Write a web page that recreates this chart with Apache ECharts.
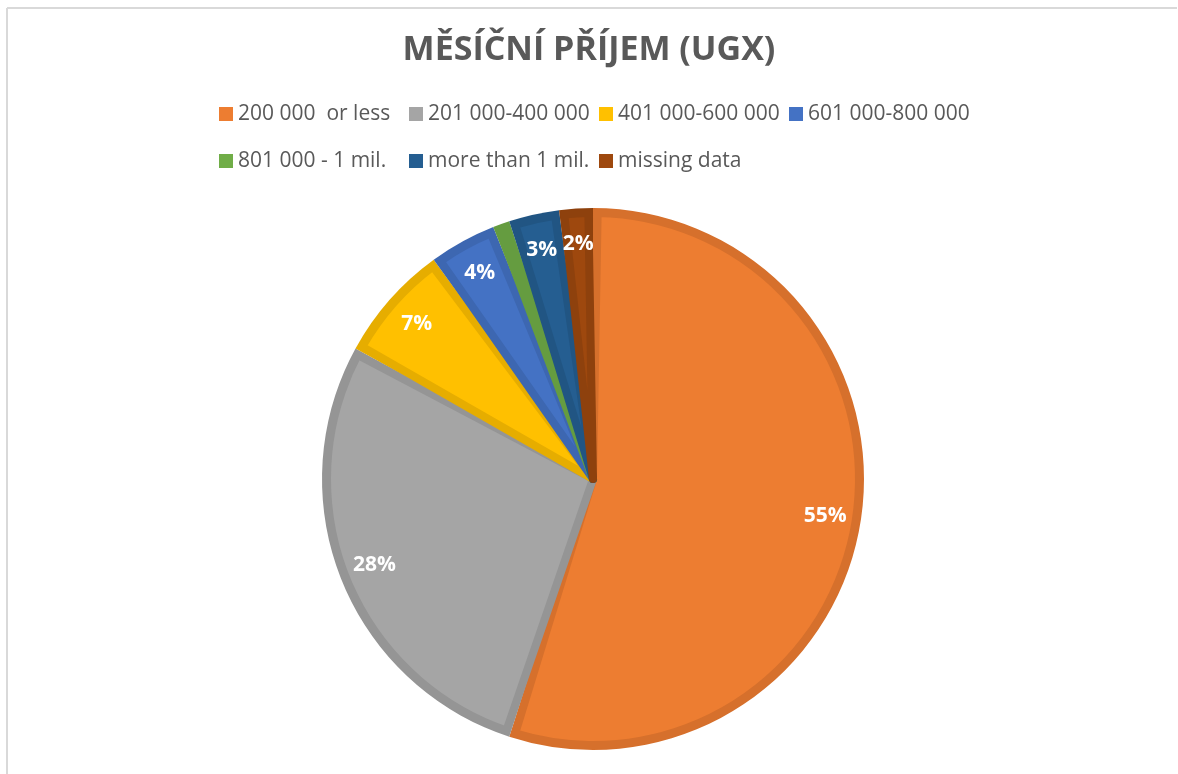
<!DOCTYPE html>
<html>
<head>
<meta charset="utf-8">
<script src="https://cdn.jsdelivr.net/npm/echarts@6/dist/echarts.min.js"></script>
<style>
  html, body { margin: 0; padding: 0; background: #fff; }
  #chart { width: 1178px; height: 774px; }
</style>
</head>
<body>
<div id="chart"></div>
<script>
const title = 'MĚSÍČNÍ PŘÍJEM (UGX)'
const categories = [
  '200 000  or less',
  '201 000-400 000',
  '401 000-600 000',
  '601 000-800 000',
  '801 000 - 1 mil.',
  'more than 1 mil.',
  'missing data',
]
const shares = [55, 28, 7, 4, 1, 3, 2]
const fillColors = ['#ED7D31', '#A5A5A5', '#FFC000', '#4472C4', '#70AD47', '#255E91', '#9E480E']
const edgeColors = ['#D6702C', '#959595', '#E6AD00', '#3D67B1', '#659C40', '#215583', '#8E410D']

const center = [593, 479]
const R = 271
const font = '"Open Sans", sans-serif'

const chart = echarts.init(document.getElementById('chart'), null, { renderer: 'canvas' })

const legendBase = {
  left: 219,
  padding: 0,
  orient: 'horizontal',
  icon: 'rect',
  itemWidth: 14,
  itemHeight: 14,
  itemGap: 0,
  selectedMode: false,
  itemStyle: { borderWidth: 0 },
  textStyle: { color: '#595959', fontFamily: font, fontSize: 21, width: 171, lineHeight: 24 },
}

chart.setOption({
  animation: false,
  backgroundColor: '#fff',
  title: {
    text: title,
    left: 'center',
    top: 28,
    textStyle: { color: '#595959', fontFamily: font, fontWeight: 'bold', fontSize: 34 },
  },
  legend: [
    { ...legendBase, top: 102, data: categories.slice(0, 4) },
    { ...legendBase, top: 149, data: categories.slice(4) },
  ],
  graphic: [
    { type: 'line', shape: { x1: 7, y1: 8, x2: 1177, y2: 8 }, style: { stroke: '#d9d9d9', lineWidth: 2 }, silent: true },
    { type: 'line', shape: { x1: 7, y1: 8, x2: 7, y2: 774 }, style: { stroke: '#d9d9d9', lineWidth: 2 }, silent: true },
  ],
  series: [
    {
      // lighter face of each slice, inset from the edges
      type: 'pie',
      z: 3,
      center,
      radius: [0, R - 5],
      startAngle: 90,
      clockwise: true,
      padAngle: 2,
      label: { show: false },
      labelLine: { show: false },
      emphasis: { disabled: true },
      silent: true,
      data: categories.map((name, i) => ({
        name,
        value: shares[i],
        itemStyle: { color: fillColors[i], borderColor: edgeColors[i], borderWidth: 8 },
      })),
    },
    {
      // darker rim
      type: 'pie',
      z: 2,
      center,
      radius: [0, R],
      startAngle: 90,
      clockwise: true,
      label: { show: false },
      labelLine: { show: false },
      emphasis: { disabled: true },
      silent: true,
      data: categories.map((name, i) => ({ name, value: shares[i], itemStyle: { color: edgeColors[i] } })),
    },
    {
      // labels only
      type: 'pie',
      z: 4,
      center,
      radius: [192, 272],
      startAngle: 90,
      clockwise: true,
      itemStyle: { color: 'rgba(0,0,0,0)' },
      label: {
        show: true,
        position: 'inside',
        formatter: '{d}%',
        color: '#fff',
        fontFamily: font,
        fontWeight: 'bold',
        fontSize: 21,
      },
      labelLine: { show: false },
      emphasis: { disabled: true },
      silent: true,
      data: categories.map((name, i) => ({ name, value: shares[i] })),
    },
  ],
})
</script>
</body>
</html>
